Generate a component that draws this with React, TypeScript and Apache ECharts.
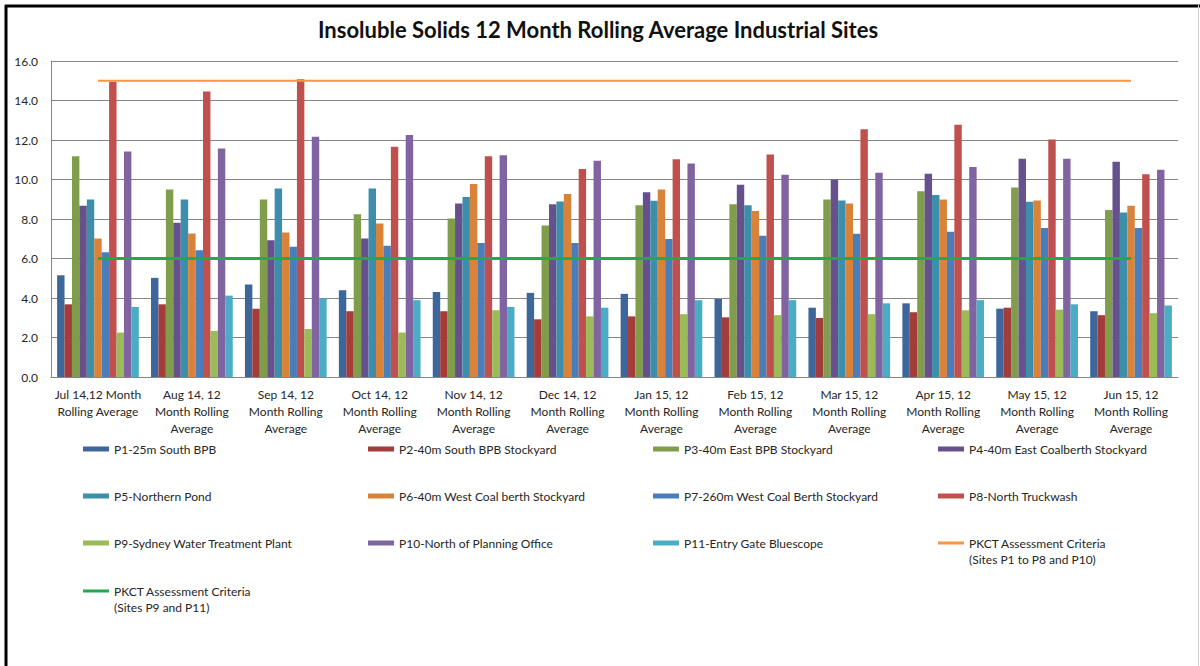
import React, { useEffect, useRef } from "react";
import * as echarts from "echarts";

// Month labels of the 12-month rolling averages
const categories = [
  "Jul 14,12 Month Rolling Average",
  "Aug 14, 12 Month Rolling Average",
  "Sep 14, 12 Month Rolling Average",
  "Oct 14, 12 Month Rolling Average",
  "Nov 14, 12 Month Rolling Average",
  "Dec 14, 12 Month Rolling Average",
  "Jan 15, 12 Month Rolling Average",
  "Feb 15, 12 Month Rolling Average",
  "Mar 15, 12 Month Rolling Average",
  "Apr 15, 12 Month Rolling Average",
  "May 15, 12 Month Rolling Average",
  "Jun 15, 12 Month Rolling Average",
];

// Insoluble solids per monitoring site
const p1 = [5.15, 5.02, 4.68, 4.39, 4.31, 4.26, 4.21, 3.95, 3.51, 3.73, 3.46, 3.33];
const p2 = [3.68, 3.68, 3.46, 3.33, 3.33, 2.92, 3.07, 3.02, 2.99, 3.28, 3.51, 3.13];
const p3 = [11.18, 9.49, 8.99, 8.24, 8.02, 7.67, 8.7, 8.75, 8.99, 9.41, 9.6, 8.46];
const p4 = [8.67, 7.81, 6.93, 7.01, 8.79, 8.75, 9.36, 9.73, 10.0, 10.29, 11.05, 10.9];
const p5 = [8.99, 8.99, 9.55, 9.55, 9.12, 8.89, 8.92, 8.7, 8.94, 9.21, 8.87, 8.33];
const p6 = [7.01, 7.26, 7.32, 7.77, 9.77, 9.26, 9.49, 8.41, 8.79, 8.99, 8.94, 8.67];
const p7 = [6.32, 6.42, 6.59, 6.64, 6.79, 6.79, 6.99, 7.15, 7.25, 7.35, 7.54, 7.54];
const p8 = [14.95, 14.46, 15.07, 11.66, 11.18, 10.53, 11.02, 11.27, 12.54, 12.77, 12.03, 10.26];
const p9 = [2.25, 2.33, 2.43, 2.25, 3.38, 3.07, 3.18, 3.13, 3.18, 3.38, 3.41, 3.23];
const p10 = [11.42, 11.57, 12.16, 12.25, 11.23, 10.95, 10.81, 10.24, 10.34, 10.63, 11.05, 10.49];
const p11 = [3.55, 4.12, 3.97, 3.89, 3.55, 3.51, 3.89, 3.89, 3.73, 3.89, 3.68, 3.62];

// Assessment criteria
const criteriaMain = [15, 15, 15, 15, 15, 15, 15, 15, 15, 15, 15, 15];
const criteriaP9P11 = [6, 6, 6, 6, 6, 6, 6, 6, 6, 6, 6, 6];

// Y axis ticks
const yTicks = [0, 2, 4, 6, 8, 10, 12, 14, 16];

const siteNames = [
  "P1-25m South BPB",
  "P2-40m South BPB Stockyard",
  "P3-40m East BPB Stockyard",
  "P4-40m East Coalberth Stockyard",
  "P5-Northern Pond",
  "P6-40m West Coal berth Stockyard",
  "P7-260m West Coal Berth Stockyard",
  "P8-North Truckwash",
  "P9-Sydney Water Treatment Plant",
  "P10-North of Planning Office",
  "P11-Entry Gate Bluescope",
];
const siteValues = [p1, p2, p3, p4, p5, p6, p7, p8, p9, p10, p11];
const siteColors = [
  "#3D679A", "#A33C3A", "#809D4B", "#66518C", "#3C8EAA", "#D9833A",
  "#4A7EBB", "#C0504D", "#9BBB59", "#8064A2", "#4BACC6",
];
const criteriaMainName = "PKCT Assessment Criteria (Sites P1 to P8 and P10)";
const criteriaLowName = "PKCT Assessment Criteria (Sites P9 and P11)";
const ORANGE = "#F79646";
const GREEN = "#22A84E";

const FONT = "Lato, 'Open Sans', sans-serif";
const TEXT = "#262626";

// greedy word wrap for the category labels
function wrap(label: string, maxChars: number): string {
  const words = label.split(" ");
  const lines: string[] = [];
  let cur = "";
  for (const w of words) {
    const next = cur ? cur + " " + w : w;
    if (next.length > maxChars && cur) {
      lines.push(cur);
      cur = w;
    } else {
      cur = next;
    }
  }
  if (cur) lines.push(cur);
  return lines.join("\n");
}

function barLegend(names: string[], left: number) {
  return {
    orient: "vertical",
    left,
    top: 441,
    padding: 0,
    itemGap: 31,
    itemWidth: 26,
    itemHeight: 5,
    icon: "rect",
    selectedMode: false,
    data: names,
    textStyle: { fontFamily: FONT, fontSize: 12, color: TEXT, lineHeight: 16 },
  };
}

// line entries: a flat stroke, text wrapped onto two lines with the first aligned to it
function lineLegend(name: string, left: number, top: number, thickness: number) {
  return {
    orient: "vertical",
    left,
    top,
    padding: 0,
    itemWidth: 26,
    itemHeight: thickness,
    icon: "rect",
    selectedMode: false,
    data: [name],
    formatter: (n: string) => "\n" + n.replace(" (", "\n("),
    textStyle: { fontFamily: FONT, fontSize: 12, color: TEXT, lineHeight: 16 },
  };
}

export default function App() {
  const ref = useRef<HTMLDivElement>(null);

  useEffect(() => {
    if (!ref.current) return;
    const chart = echarts.init(ref.current, undefined, { renderer: "svg" });

    const barSeries = siteNames.map((name, i) => ({
      name,
      type: "bar",
      data: siteValues[i],
      barGap: "0%",
      barCategoryGap: "13%",
      itemStyle: { color: siteColors[i] },
    }));

    chart.setOption({
      animation: false,
      backgroundColor: "#ffffff",
      title: {
        text: "Insoluble Solids 12 Month Rolling Average Industrial Sites",
        left: 318,
        top: 18,
        padding: 0,
        textStyle: { fontFamily: FONT, fontSize: 22, fontWeight: "bold", color: "#111" },
      },
      grid: { left: 51, right: 22, top: 61, bottom: 289 },
      xAxis: {
        type: "category",
        data: categories,
        axisLine: { lineStyle: { color: "#868686", width: 1 } },
        axisTick: { show: false },
        axisLabel: {
          interval: 0,
          margin: 9,
          fontFamily: FONT,
          fontSize: 12,
          lineHeight: 17,
          color: TEXT,
          formatter: (v: string) => wrap(v, 15),
        },
      },
      yAxis: {
        type: "value",
        min: yTicks[0],
        max: yTicks[yTicks.length - 1],
        interval: 2,
        axisLine: { show: true, lineStyle: { color: "#868686", width: 1 } },
        axisTick: { show: false },
        splitLine: { lineStyle: { color: "#868686", width: 1 } },
        axisLabel: {
          margin: 13,
          fontFamily: FONT,
          fontSize: 12,
          color: TEXT,
          formatter: (v: number) => v.toFixed(1),
        },
      },
      legend: [
        barLegend([siteNames[0], siteNames[4], siteNames[8]], 83),
        barLegend([siteNames[1], siteNames[5], siteNames[9]], 368),
        barLegend([siteNames[2], siteNames[6], siteNames[10]], 653),
        barLegend([siteNames[3], siteNames[7]], 938),
        lineLegend(criteriaMainName, 938, 519, 3),
        lineLegend(criteriaLowName, 83, 567, 3),
      ],
      series: [
        ...barSeries,
        {
          name: criteriaMainName,
          type: "line",
          data: criteriaMain,
          symbol: "none",
          lineStyle: { color: ORANGE, width: 2 },
          itemStyle: { color: ORANGE },
          z: 5,
        },
        {
          name: criteriaLowName,
          type: "line",
          data: criteriaP9P11,
          symbol: "none",
          lineStyle: { color: GREEN, width: 3 },
          itemStyle: { color: GREEN },
          z: 5,
        },
      ],
      graphic: [
        { type: "line", shape: { x1: 5, y1: 6, x2: 1200, y2: 6 }, style: { stroke: "#000", lineWidth: 3 } },
        { type: "line", shape: { x1: 6, y1: 5, x2: 6, y2: 666 }, style: { stroke: "#000", lineWidth: 3 } },
        { type: "line", shape: { x1: 1198.5, y1: 5, x2: 1198.5, y2: 666 }, style: { stroke: "#cfcfcf", lineWidth: 1 } },
      ],
    });

    return () => chart.dispose();
  }, []);

  return (
    <div
      ref={ref}
      style={{ position: "fixed", left: 0, top: 0, width: 1200, height: 666 }}
    />
  );
}
